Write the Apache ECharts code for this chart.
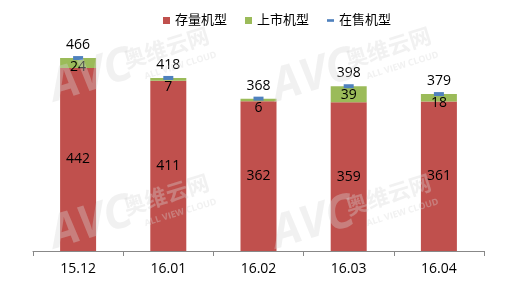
<!DOCTYPE html>
<html>
<head>
<meta charset="utf-8">
<script src="https://cdn.jsdelivr.net/npm/echarts@6/dist/echarts.min.js"></script>
<style>
html,body{margin:0;padding:0;background:#fff;}
#main{width:513px;height:290px;}
</style>
</head>
<body>
<div id="main"></div>
<script>
var categories = ['15.12', '16.01', '16.02', '16.03', '16.04'];
var stockModels = [442, 411, 362, 359, 361];
var newModels = [24, 7, 6, 39, 18];
var onSaleModels = [466, 418, 368, 398, 379];
var seriesNames = ['存量机型', '上市机型', '在售机型'];

var FONT = "'Open Sans','Noto Sans CJK SC',sans-serif";
var chart = echarts.init(document.getElementById('main'), null, {renderer: 'canvas'});

// watermark graphics (decorative)
var wm = [];
var offs = [[0, 0], [222, 0], [0, -147], [222, -147]];
var wmColor = 'rgba(215,215,215,0.35)';
offs.forEach(function (o) {
  wm.push({type: 'text', x: 58 + o[0], y: 258 + o[1], rotation: 0.3, z: 100, silent: true,
    style: {text: 'AVC', fill: wmColor, font: 'italic bold 46px ' + FONT, textVerticalAlign: 'bottom'}});
  wm.push({type: 'text', x: 128 + o[0], y: 220 + o[1], rotation: 0.3, z: 100, silent: true,
    style: {text: '奥维云网', fill: wmColor, font: 'bold 22px ' + FONT, textVerticalAlign: 'bottom'}});
  wm.push({type: 'text', x: 146 + o[0], y: 228 + o[1], rotation: 0.3, z: 100, silent: true,
    style: {text: 'ALL VIEW CLOUD', fill: wmColor, font: 'bold 9px ' + FONT, textVerticalAlign: 'bottom'}});
});

var option = {
  animation: false,
  textStyle: {fontFamily: FONT},
  graphic: wm,
  legend: {
    left: 158, top: 9,
    itemWidth: 7, itemHeight: 7, itemGap: 18,
    textStyle: {fontSize: 13, color: '#000', fontFamily: FONT},
    data: [
      {name: seriesNames[0], icon: 'rect'},
      {name: seriesNames[1], icon: 'rect'},
      {name: seriesNames[2], icon: 'path://M0 0H8V3H0Z'}
    ]
  },
  grid: {left: 33, right: 29, top: 44, bottom: 39},
  xAxis: {
    type: 'category',
    data: categories,
    axisLine: {lineStyle: {color: '#888', width: 1}},
    axisTick: {show: true, length: 5, lineStyle: {color: '#888'}},
    axisLabel: {fontSize: 14, color: '#000', margin: 11, fontFamily: FONT}
  },
  yAxis: {type: 'value', min: 0, max: 500, show: false, splitLine: {show: false}},
  series: [
    {
      name: seriesNames[0], type: 'bar', stack: 'a', barWidth: 36,
      data: stockModels,
      itemStyle: {color: '#C0504D'},
      label: {show: true, position: 'inside', fontSize: 14, color: '#000', fontFamily: FONT}
    },
    {
      name: seriesNames[1], type: 'bar', stack: 'a', barWidth: 36,
      data: newModels,
      itemStyle: {color: '#9BBB59'},
      label: {show: true, position: 'insideTop', distance: 2, fontSize: 14, color: '#000', fontFamily: FONT}
    },
    {
      name: seriesNames[2], type: 'line', z: 10,
      data: onSaleModels,
      symbol: 'rect', symbolSize: [10, 4],
      lineStyle: {width: 0, opacity: 0},
      itemStyle: {color: '#4F81BD'},
      label: {show: true, position: 'top', distance: 4, fontSize: 14, color: '#000', fontFamily: FONT}
    }
  ]
};
chart.setOption(option);
</script>
</body>
</html>
